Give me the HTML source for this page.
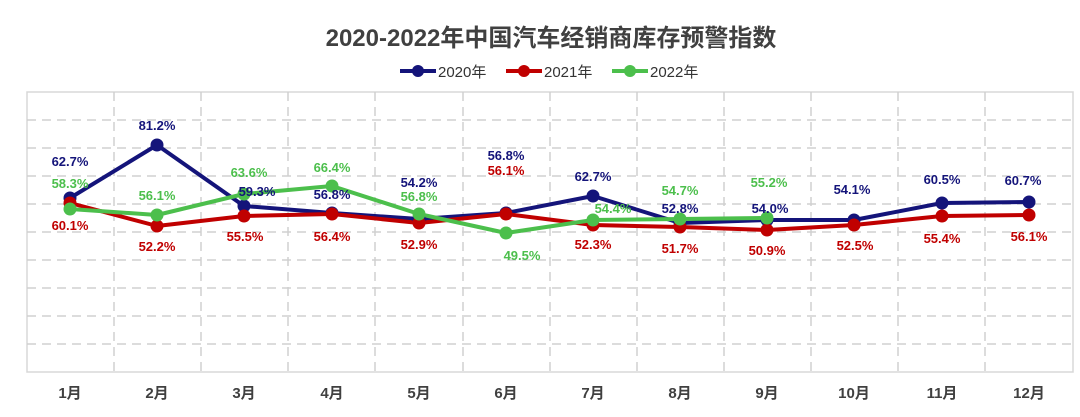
<!DOCTYPE html><html><head><meta charset="utf-8"><style>body{margin:0;background:#fff}svg text{font-family:"Liberation Sans","Noto Sans CJK SC",sans-serif;font-weight:bold}</style></head><body>
<svg width="1080" height="412" viewBox="0 0 1080 412" xmlns="http://www.w3.org/2000/svg">
<text x="551" y="46" text-anchor="middle" font-size="24" fill="#404040">2020-2022年中国汽车经销商库存预警指数</text>
<g font-size="15" fill="#333" font-weight="normal">
<line x1="400" y1="71" x2="436" y2="71" stroke="#14147a" stroke-width="4"/><circle cx="418" cy="71" r="6" fill="#14147a"/><text x="438" y="77" style="font-weight:normal">2020年</text>
<line x1="506" y1="71" x2="542" y2="71" stroke="#c00000" stroke-width="4"/><circle cx="524" cy="71" r="6" fill="#c00000"/><text x="544" y="77" style="font-weight:normal">2021年</text>
<line x1="612" y1="71" x2="648" y2="71" stroke="#4cbf4c" stroke-width="4"/><circle cx="630" cy="71" r="6" fill="#4cbf4c"/><text x="650" y="77" style="font-weight:normal">2022年</text>
</g>
<rect x="27" y="92" width="1046" height="280" fill="none" stroke="#d8d8d8" stroke-width="1.5"/>
<g stroke="#d0d0d0" stroke-width="1.5" stroke-dasharray="9,6">
<line x1="27" y1="120" x2="1073" y2="120"/><line x1="27" y1="148" x2="1073" y2="148"/><line x1="27" y1="176" x2="1073" y2="176"/><line x1="27" y1="204" x2="1073" y2="204"/><line x1="27" y1="232" x2="1073" y2="232"/><line x1="27" y1="260" x2="1073" y2="260"/><line x1="27" y1="288" x2="1073" y2="288"/><line x1="27" y1="316" x2="1073" y2="316"/><line x1="27" y1="344" x2="1073" y2="344"/>
<line x1="114" y1="92" x2="114" y2="376"/><line x1="201" y1="92" x2="201" y2="376"/><line x1="288" y1="92" x2="288" y2="376"/><line x1="375" y1="92" x2="375" y2="376"/><line x1="463" y1="92" x2="463" y2="376"/><line x1="550" y1="92" x2="550" y2="376"/><line x1="637" y1="92" x2="637" y2="376"/><line x1="724" y1="92" x2="724" y2="376"/><line x1="811" y1="92" x2="811" y2="376"/><line x1="898" y1="92" x2="898" y2="376"/><line x1="985" y1="92" x2="985" y2="376"/>
</g>
<g font-size="15" fill="#404040" text-anchor="middle">
<text x="70" y="398">1月</text><text x="157" y="398">2月</text><text x="244" y="398">3月</text><text x="332" y="398">4月</text><text x="419" y="398">5月</text><text x="506" y="398">6月</text><text x="593" y="398">7月</text><text x="680" y="398">8月</text><text x="767" y="398">9月</text><text x="854" y="398">10月</text><text x="942" y="398">11月</text><text x="1029" y="398">12月</text>
</g>
<g fill="none" stroke-width="4" stroke-linejoin="round">
<polyline stroke="#14147a" points="70,198 157,145 244,206 332,213 419,219 506,213 593,196 680,223 767,220 854,220 942,203 1029,202"/>
<polyline stroke="#c00000" points="70,203 157,226 244,216 332,214 419,223 506,214 593,225 680,227 767,230 854,225 942,216 1029,215"/>
<polyline stroke="#4cbf4c" points="70,209 157,215 244,194 332,186 419,214 506,233 593,220 680,219 767,218"/>
</g>
<g fill="#14147a"><circle cx="70" cy="198" r="6.5"/><circle cx="157" cy="145" r="6.5"/><circle cx="244" cy="206" r="6.5"/><circle cx="332" cy="213" r="6.5"/><circle cx="419" cy="219" r="6.5"/><circle cx="506" cy="213" r="6.5"/><circle cx="593" cy="196" r="6.5"/><circle cx="680" cy="223" r="6.5"/><circle cx="767" cy="220" r="6.5"/><circle cx="854" cy="220" r="6.5"/><circle cx="942" cy="203" r="6.5"/><circle cx="1029" cy="202" r="6.5"/></g>
<g fill="#c00000"><circle cx="70" cy="203" r="6.5"/><circle cx="157" cy="226" r="6.5"/><circle cx="244" cy="216" r="6.5"/><circle cx="332" cy="214" r="6.5"/><circle cx="419" cy="223" r="6.5"/><circle cx="506" cy="214" r="6.5"/><circle cx="593" cy="225" r="6.5"/><circle cx="680" cy="227" r="6.5"/><circle cx="767" cy="230" r="6.5"/><circle cx="854" cy="225" r="6.5"/><circle cx="942" cy="216" r="6.5"/><circle cx="1029" cy="215" r="6.5"/></g>
<g fill="#4cbf4c"><circle cx="70" cy="209" r="6.5"/><circle cx="157" cy="215" r="6.5"/><circle cx="244" cy="194" r="6.5"/><circle cx="332" cy="186" r="6.5"/><circle cx="419" cy="214" r="6.5"/><circle cx="506" cy="233" r="6.5"/><circle cx="593" cy="220" r="6.5"/><circle cx="680" cy="219" r="6.5"/><circle cx="767" cy="218" r="6.5"/></g>
<g font-size="13" text-anchor="middle" fill="#14147a">
<text x="70" y="166">62.7%</text><text x="157" y="130">81.2%</text><text x="257" y="196">59.3%</text><text x="332" y="199">56.8%</text><text x="419" y="187">54.2%</text><text x="506" y="160">56.8%</text><text x="593" y="181">62.7%</text><text x="680" y="213">52.8%</text><text x="770" y="213">54.0%</text><text x="852" y="194">54.1%</text><text x="942" y="184">60.5%</text><text x="1023" y="185">60.7%</text>
</g>
<g font-size="13" text-anchor="middle" fill="#c00000">
<text x="70" y="230">60.1%</text><text x="157" y="251">52.2%</text><text x="245" y="241">55.5%</text><text x="332" y="241">56.4%</text><text x="419" y="249">52.9%</text><text x="506" y="175">56.1%</text><text x="593" y="249">52.3%</text><text x="680" y="253">51.7%</text><text x="767" y="255">50.9%</text><text x="855" y="250">52.5%</text><text x="942" y="243">55.4%</text><text x="1029" y="241">56.1%</text>
</g>
<g font-size="13" text-anchor="middle" fill="#4cbf4c">
<text x="70" y="188">58.3%</text><text x="157" y="200">56.1%</text><text x="249" y="177">63.6%</text><text x="332" y="172">66.4%</text><text x="419" y="201">56.8%</text><text x="522" y="260">49.5%</text><text x="613" y="213">54.4%</text><text x="680" y="195">54.7%</text><text x="769" y="187">55.2%</text>
</g>
</svg></body></html>
